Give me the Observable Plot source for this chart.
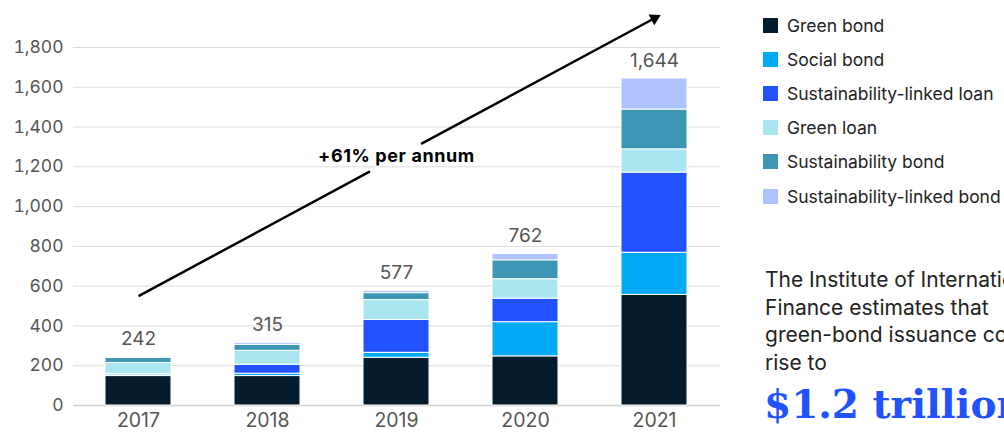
<!DOCTYPE html>
<html>
<head>
<meta charset="utf-8">
<script src="https://cdn.jsdelivr.net/npm/d3@7"></script>
<script src="https://cdn.jsdelivr.net/npm/@observablehq/plot@0.6"></script>
<style>
  html, body { margin: 0; padding: 0; background: #fff; overflow: hidden; }
  #wrap { position: relative; width: 1004px; height: 432px; overflow: hidden; font-family: Inter, "Liberation Sans", sans-serif; }
  #chart { position: absolute; left: 0; top: 0; }
  #legend { position: absolute; left: 763px; top: 8px; }
  .item { display: flex; align-items: center; height: 34.2px; font-size: 17.5px; color: #222; white-space: nowrap; }
  .sw { width: 15px; height: 15px; margin-right: 9px; flex: none; }
  #note { position: absolute; left: 765px; top: 266px; font-size: 21px; line-height: 27.7px; color: #222; white-space: nowrap; }
  #big { position: absolute; left: 764px; top: 380px; font-family: "DejaVu Serif", serif; font-weight: 700; font-size: 39px; color: #2251ff; white-space: nowrap; line-height: 48px; }
</style>
</head>
<body>
<div id="wrap">
  <div id="chart"></div>
  <div id="legend"></div>
  <div id="note">The Institute of International<br>Finance estimates that<br>green-bond issuance could<br>rise to</div>
  <div id="big">$1.2 trillion</div>
</div>
<script>
// ---- data ----
const years = ["2017", "2018", "2019", "2020", "2021"];
const categories = ["Green bond", "Social bond", "Sustainability-linked loan", "Green loan", "Sustainability bond", "Sustainability-linked bond"];
const greenBond = [148, 148, 240, 247, 556];
const socialBond = [8, 12, 25, 172, 212];
const sustainabilityLinkedLoan = [3, 45, 165, 118, 403];
const greenLoan = [55, 70, 100, 98, 117];
const sustainabilityBond = [26, 30, 35, 95, 200];
const sustainabilityLinkedBond = [2, 10, 12, 32, 156];
const totals = [242, 315, 577, 762, 1644];
const colors = ["#051c2c", "#00a9f4", "#2251ff", "#aae6f0", "#3c96b4", "#afc3ff"];
const yTicks = [0, 200, 400, 600, 800, 1000, 1200, 1400, 1600, 1800];
const growthLabel = "+61% per annum";
const arrowStart = {year: "2017", value: 550};
const arrowEnd = {year: "2021", value: 1947};
const labelAnchor = {year: "2019", value: 1251};

const seriesValues = [greenBond, socialBond, sustainabilityLinkedLoan, greenLoan, sustainabilityBond, sustainabilityLinkedBond];
const rows = [];
years.forEach((y, i) => categories.forEach((c, j) => rows.push({year: y, category: c, value: seriesValues[j][i]})));

const fmt = d3.format(",");

const chart = Plot.plot({
  width: 740,
  height: 432,
  marginTop: 47,
  marginBottom: 27,
  marginLeft: 73,
  marginRight: 20,
  style: {fontFamily: "Inter, 'Liberation Sans', sans-serif", fontSize: "17px", color: "#555", background: "white"},
  x: {domain: years, paddingInner: 0.485, paddingOuter: 0.24, label: null},
  y: {domain: [0, 1800], label: null},
  color: {domain: categories, range: colors},
  marks: [
    Plot.gridY(yTicks, {stroke: "#dcdcdc", strokeOpacity: 1}),
    Plot.axisY(yTicks, {tickSize: 0, tickPadding: 10, tickFormat: fmt, fontSize: 17.5, fill: "#555", label: null}),
    Plot.axisX({tickSize: 0, tickPadding: 8, fontSize: 19.5, fill: "#555", label: null}),
    Plot.ruleY([0], {stroke: "#cfcfcf", strokeWidth: 1.5}),
    Plot.barY(rows, {x: "year", y: "value", fill: "category", order: categories, stroke: "white", strokeWidth: 1}),
    Plot.text(totals, {x: (d, i) => years[i], y: d => d, text: d => fmt(d), dy: -18, fill: "#555", fontSize: 19}),
    Plot.link([arrowStart], {x1: d => d.year, y1: d => d.value, x2: () => arrowEnd.year, y2: () => arrowEnd.value, stroke: "black", strokeWidth: 2.5, strokeDasharray: "263 58 1000"}),
    Plot.dot([arrowEnd], {x: "year", y: "value", symbol: "triangle", r: 4.5, fill: "black", stroke: "none", rotate: 62}),
    Plot.text([growthLabel], {x: () => labelAnchor.year, y: () => labelAnchor.value, text: d => d, fontWeight: 700, fontSize: 18, fill: "#000", stroke: "white", strokeWidth: 3, paintOrder: "stroke"})
  ]
});
document.getElementById("chart").appendChild(chart);

// slightly wider tracking on the growth annotation
d3.select(chart).selectAll("text").filter(function() { return this.textContent === growthLabel; }).style("letter-spacing", "0.6px");

const legend = document.getElementById("legend");
categories.forEach((c, i) => {
  const item = document.createElement("div");
  item.className = "item";
  const sw = document.createElement("span");
  sw.className = "sw";
  sw.style.background = colors[i];
  const label = document.createElement("span");
  label.textContent = c;
  item.appendChild(sw);
  item.appendChild(label);
  legend.appendChild(item);
});
</script>
</body>
</html>
